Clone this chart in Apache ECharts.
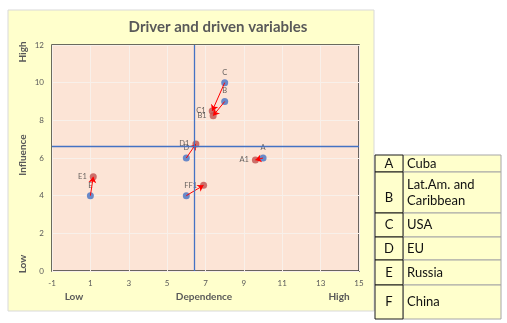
<!DOCTYPE html>
<html><head><meta charset="utf-8">
<script src="https://cdn.jsdelivr.net/npm/echarts@6/dist/echarts.min.js"></script>
<style>html,body{margin:0;padding:0;background:#fff;}#c{width:507px;height:323px;}</style>
</head><body><div id="c"></div>
<script>
// ---- data ----
const ids = ['A','B','C','D','E','F'];
const origX = [10, 8, 8, 6, 1, 6];
const origY = [6, 9, 10, 6, 4, 4];
const newX = [9.6, 7.4, 7.35, 6.5, 1.15, 6.9];
const newY = [5.9, 8.25, 8.5, 6.75, 5.0, 4.55];
const crossX = 6.4;
const crossY = 6.6;
const xTicks = [-1, 1, 3, 5, 7, 9, 11, 13, 15];
const tableKeys = ['A','B','C','D','E','F'];
const tableNames = ['Cuba','Lat.Am. and\nCaribbean','USA','EU','Russia','China'];

const FONT = 'Lato, "Open Sans", sans-serif';
const chart = echarts.init(document.getElementById('c'), null, {renderer:'canvas'});

const origData = ids.map((k,i)=>({value:[origX[i],origY[i]], name:k}));
const newData = ids.map((k,i)=>({value:[newX[i],newY[i]], name:k+'1'}));
const arrowData = ids.map((k,i)=>({coords:[[origX[i],origY[i]],[newX[i],newY[i]]]}));

// table graphics
const rowTops = [155,172,213,237,260,285,319];
const tbl = [];
tableKeys.forEach((k,i)=>{
  const y0 = rowTops[i], y1 = rowTops[i+1];
  tbl.push({type:'rect', shape:{x:403,y:y0,width:98,height:y1-y0}, style:{fill:'#FFFFCC', stroke:'#A6A6A6', lineWidth:1}});
  tbl.push({type:'rect', shape:{x:375,y:y0,width:28,height:y1-y0}, style:{fill:'#FFFFCC', stroke:'#1a1a1a', lineWidth:1}});
  const multi = tableNames[i].indexOf('\n')>=0;
  tbl.push({type:'text', x:389, y: multi ? y1-15 : (y0+y1)/2, style:{text:k, font:'13px '+FONT, fill:'#111', align:'center', verticalAlign:'middle'}});
  tbl.push({type:'text', x:407, y:(y0+y1)/2, style:{text:tableNames[i], font:'13px '+FONT, fill:'#111', align:'left', verticalAlign:'middle', lineHeight:16}});
});

const labelStyle = {fontFamily:FONT, fontSize:7.5, color:'#404040'};
const axT = 'bold 10px '+FONT;

chart.setOption({
  animation:false,
  backgroundColor:'#ffffff',
  graphic:[
    {type:'rect', z:-10, shape:{x:8,y:10,width:366,height:301}, style:{fill:'#FFFFCC', stroke:'#D9D9D9', lineWidth:1}},
    {type:'text', x:218, y:27, style:{text:'Driver and driven variables', font:'bold 15px '+FONT, fill:'#595959', align:'center', verticalAlign:'middle'}},
    {type:'text', x:23, y:52, rotation:Math.PI/2, style:{text:'High', font:axT, fill:'#595959', align:'center', verticalAlign:'middle'}},
    {type:'text', x:23, y:155, rotation:Math.PI/2, style:{text:'Influence', font:axT, fill:'#595959', align:'center', verticalAlign:'middle'}},
    {type:'text', x:23, y:264, rotation:Math.PI/2, style:{text:'Low', font:axT, fill:'#595959', align:'center', verticalAlign:'middle'}},
    {type:'text', x:74, y:297, style:{text:'Low', font:axT, fill:'#595959', align:'center', verticalAlign:'middle'}},
    {type:'text', x:204, y:297, style:{text:'Dependence', font:axT, fill:'#595959', align:'center', verticalAlign:'middle'}},
    {type:'text', x:339, y:297, style:{text:'High', font:axT, fill:'#595959', align:'center', verticalAlign:'middle'}}
  ].concat(tbl),
  grid:{left:52, top:45, right:148, bottom:52, show:true, backgroundColor:'#FCE4D6', borderColor:'#3a3a3a', borderWidth:1.5, containLabel:false},
  xAxis:{
    type:'value', min:-1, max:15,
    axisLine:{show:false},
    axisTick:{show:false, customValues:xTicks},
    axisLabel:{customValues:xTicks, fontFamily:FONT, fontSize:8, color:'#595959', margin:8},
    splitLine:{show:true, lineStyle:{color:'#F8F0EA', width:1}}
  },
  yAxis:{
    type:'value', min:0, max:12, interval:2,
    axisLine:{show:false},
    axisTick:{show:false},
    axisLabel:{fontFamily:FONT, fontSize:8, color:'#595959', margin:8},
    splitLine:{show:true, lineStyle:{color:'#F8F0EA', width:1}}
  },
  series:[
    {
      type:'scatter', name:'orig', data:origData, symbolSize:7,
      itemStyle:{color:'#4472C4'},
      label:{show:true, position:'top', distance:3, formatter:p=>p.name, ...labelStyle},
      markLine:{
        silent:true, symbol:['none','none'], label:{show:false},
        lineStyle:{color:'#4472C4', width:1.3, type:'solid'},
        data:[{xAxis:crossX},{yAxis:crossY}]
      },
      z:3
    },
    {
      type:'scatter', name:'new', data:newData, symbolSize:7,
      itemStyle:{color:'#C0504D'},
      label:{show:true, position:'left', distance:3, formatter:p=>p.name, ...labelStyle},
      z:3
    },
    {
      type:'lines', coordinateSystem:'cartesian2d', data:arrowData,
      symbol:['none','arrow'], symbolSize:6,
      lineStyle:{color:'#FF0000', width:1, opacity:1},
      z:4
    }
  ]
});
</script></body></html>
